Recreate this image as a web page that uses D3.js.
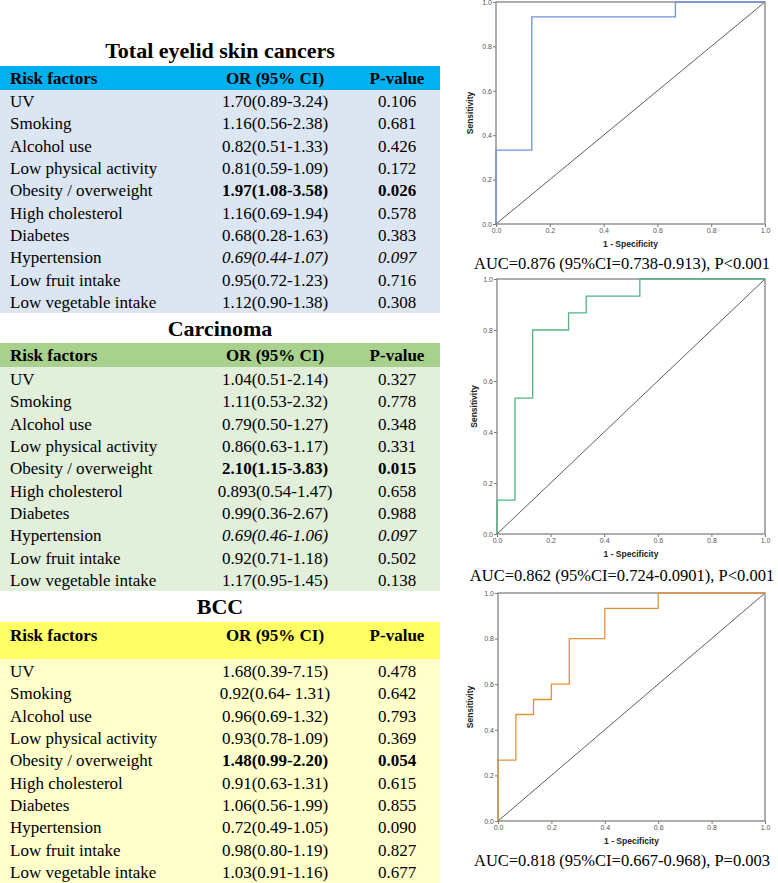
<!DOCTYPE html>
<html>
<head>
<meta charset="utf-8">
<script src="https://cdn.jsdelivr.net/npm/d3@7"></script>
<style>
  body { margin: 0; background: #fff; }
  svg { display: block; }
</style>
</head>
<body>
<svg id="fig" width="778" height="883"></svg>
<script>
// table data
const riskFactors = [
    'UV', 'Smoking', 'Alcohol use', 'Low physical activity', 'Obesity / overweight',
    'High cholesterol', 'Diabetes', 'Hypertension', 'Low fruit intake', 'Low vegetable intake'
];
const headers = ['Risk factors', 'OR (95% CI)', 'P-value'];

const totalOR = ['1.70(0.89-3.24)', '1.16(0.56-2.38)', '0.82(0.51-1.33)', '0.81(0.59-1.09)', '1.97(1.08-3.58)',
    '1.16(0.69-1.94)', '0.68(0.28-1.63)', '0.69(0.44-1.07)', '0.95(0.72-1.23)', '1.12(0.90-1.38)'];
const totalP = ['0.106', '0.681', '0.426', '0.172', '0.026', '0.578', '0.383', '0.097', '0.716', '0.308'];

const carcOR = ['1.04(0.51-2.14)', '1.11(0.53-2.32)', '0.79(0.50-1.27)', '0.86(0.63-1.17)', '2.10(1.15-3.83)',
    '0.893(0.54-1.47)', '0.99(0.36-2.67)', '0.69(0.46-1.06)', '0.92(0.71-1.18)', '1.17(0.95-1.45)'];
const carcP = ['0.327', '0.778', '0.348', '0.331', '0.015', '0.658', '0.988', '0.097', '0.502', '0.138'];

const bccOR = ['1.68(0.39-7.15)', '0.92(0.64- 1.31)', '0.96(0.69-1.32)', '0.93(0.78-1.09)', '1.48(0.99-2.20)',
    '0.91(0.63-1.31)', '1.06(0.56-1.99)', '0.72(0.49-1.05)', '0.98(0.80-1.19)', '1.03(0.91-1.16)'];
const bccP = ['0.478', '0.642', '0.793', '0.369', '0.054', '0.615', '0.855', '0.090', '0.827', '0.677'];

// significant (bold) and borderline (italic) rows
const totalBold = [4], totalItalic = [7];
const carcBold = [4], carcItalic = [7];
const bccBold = [4], bccItalic = [];

// ROC curve points (1 - specificity, sensitivity)
const rocTotalX = [0, 0, 0.133, 0.133, 0.667, 0.667, 1];
const rocTotalY = [0, 0.333, 0.333, 0.933, 0.933, 1, 1];
const rocCarcX = [0, 0, 0.067, 0.067, 0.133, 0.133, 0.267, 0.267, 0.333, 0.333, 0.533, 0.533, 1];
const rocCarcY = [0, 0.133, 0.133, 0.533, 0.533, 0.8, 0.8, 0.867, 0.867, 0.933, 0.933, 1, 1];
const rocBccX = [0, 0, 0.067, 0.067, 0.133, 0.133, 0.2, 0.2, 0.267, 0.267, 0.4, 0.4, 0.6, 0.6, 1];
const rocBccY = [0, 0.267, 0.267, 0.467, 0.467, 0.533, 0.533, 0.6, 0.6, 0.8, 0.8, 0.933, 0.933, 1, 1];
const rocTicks = [0, 0.2, 0.4, 0.6, 0.8, 1.0];
const aucLabels = [
    'AUC=0.876 (95%CI=0.738-0.913), P<0.001',
    'AUC=0.862 (95%CI=0.724-0.0901), P<0.001',
    'AUC=0.818 (95%CI=0.667-0.968), P=0.003'
];

const svg = d3.select('#fig');
const serif = '"Liberation Serif", "Times New Roman", serif';
const sans = '"Liberation Sans", Arial, sans-serif';

// ---------- tables ----------
const tables = [
    { title: 'Total eyelid skin cancers', or: totalOR, p: totalP, bold: totalBold, italic: totalItalic,
      titleY: 58, headTop: 66, headBottom: 90, headText: 84, bodyBottom: 313, head: '#00b0f0', body: '#dce6f2' },
    { title: 'Carcinoma', or: carcOR, p: carcP, bold: carcBold, italic: carcItalic,
      titleY: 336, headTop: 343, headBottom: 367, headText: 361, bodyBottom: 591, head: '#a9d18e', body: '#e2efda' },
    { title: 'BCC', or: bccOR, p: bccP, bold: bccBold, italic: bccItalic,
      titleY: 614, headTop: 622, headBottom: 659, headText: 641, bodyBottom: 883, head: '#ffff66', body: '#ffffcc' }
];

const tableWidth = 440;
const colX = d3.scaleOrdinal().domain([0, 1, 2]).range([10, 275, 397]);
const colAnchor = ['start', 'middle', 'middle'];

tables.forEach(function(t) {
    var g = svg.append('g');

    g.append('text')
        .attr('x', 220)
        .attr('y', t.titleY)
        .attr('text-anchor', 'middle')
        .style('font-family', serif)
        .style('font-weight', 'bold')
        .style('font-size', '22px')
        .text(t.title);

    g.append('rect')
        .attr('x', 0).attr('y', t.headTop)
        .attr('width', tableWidth).attr('height', t.headBottom - t.headTop)
        .attr('fill', t.head);

    g.append('rect')
        .attr('x', 0).attr('y', t.headBottom)
        .attr('width', tableWidth).attr('height', t.bodyBottom - t.headBottom)
        .attr('fill', t.body);

    g.selectAll('.head')
        .data(headers)
        .enter().append('text')
        .attr('x', function(d, i) { return colX(i); })
        .attr('y', t.headText)
        .attr('text-anchor', function(d, i) { return colAnchor[i]; })
        .style('font-family', serif)
        .style('font-weight', 'bold')
        .style('font-size', '17px')
        .text(function(d) { return d; });

    var rowY = d3.scaleBand()
        .domain(d3.range(riskFactors.length))
        .range([t.bodyBottom - 10 * 22.3, t.bodyBottom]);

    var rows = g.selectAll('.row')
        .data(riskFactors)
        .enter().append('g')
        .attr('transform', function(d, i) { return 'translate(0,' + (rowY(i) + rowY.bandwidth() / 2 + 6) + ')'; });

    rows.each(function(d, i) {
        var row = d3.select(this);
        var cells = [d, t.or[i], t.p[i]];
        cells.forEach(function(c, j) {
            row.append('text')
                .attr('x', colX(j))
                .attr('text-anchor', colAnchor[j])
                .style('font-family', serif)
                .style('font-size', '17px')
                .style('font-weight', j > 0 && t.bold.indexOf(i) >= 0 ? 'bold' : 'normal')
                .style('font-style', j > 0 && t.italic.indexOf(i) >= 0 ? 'italic' : 'normal')
                .text(c);
        });
    });
});

// ---------- ROC charts ----------
const rocCharts = [
    { xs: rocTotalX, ys: rocTotalY, color: '#7090d8', left: 496, right: 765, top: 2, bottom: 224, yLabelX: 473, aucY: 269 },
    { xs: rocCarcX, ys: rocCarcY, color: '#52b583', left: 497, right: 765, top: 279, bottom: 534, yLabelX: 477, aucY: 581 },
    { xs: rocBccX, ys: rocBccY, color: '#e0933a', left: 498, right: 765, top: 593, bottom: 821, yLabelX: 473, aucY: 866 }
];

rocCharts.forEach(function(c, k) {
    var xScale = d3.scaleLinear().domain([0, 1]).range([c.left, c.right]);
    var yScale = d3.scaleLinear().domain([0, 1]).range([c.bottom, c.top]);
    var g = svg.append('g');
    var fmt = d3.format('.1f');

    // axes
    var yAxis = g.append('g')
        .attr('transform', 'translate(' + c.left + ',0)')
        .call(d3.axisLeft(yScale).tickValues(rocTicks).tickFormat(fmt).tickSize(3).tickPadding(1));
    var xAxis = g.append('g')
        .attr('transform', 'translate(0,' + c.bottom + ')')
        .call(d3.axisBottom(xScale).tickValues(rocTicks).tickFormat(fmt).tickSize(3).tickPadding(1));

    [xAxis, yAxis].forEach(function(a) {
        a.select('.domain').remove();
        a.selectAll('line').attr('stroke', '#777');
        a.selectAll('text')
            .attr('fill', '#555')
            .style('font-family', sans)
            .style('font-size', '7px');
    });

    // frame
    g.append('rect')
        .attr('x', xScale(0)).attr('y', yScale(1))
        .attr('width', xScale(1) - xScale(0)).attr('height', yScale(0) - yScale(1))
        .attr('fill', 'none')
        .attr('stroke', '#8c8c8c')
        .attr('stroke-width', 1.4);

    // reference diagonal
    g.append('line')
        .attr('x1', xScale(0)).attr('y1', yScale(0))
        .attr('x2', xScale(1)).attr('y2', yScale(1))
        .attr('stroke', '#333')
        .attr('stroke-width', 0.8);

    // ROC curve
    var pts = c.xs.map(function(x, i) { return [x, c.ys[i]]; });
    g.append('path')
        .datum(pts)
        .attr('fill', 'none')
        .attr('stroke', c.color)
        .attr('stroke-width', 1.3)
        .attr('d', d3.line()
            .x(function(d) { return xScale(d[0]); })
            .y(function(d) { return yScale(d[1]); }));

    // axis titles
    g.append('text')
        .attr('transform', 'translate(' + c.yLabelX + ',' + ((c.top + c.bottom) / 2) + ') rotate(-90)')
        .attr('text-anchor', 'middle')
        .attr('fill', '#222')
        .style('font-family', sans)
        .style('font-weight', 'bold')
        .style('font-size', '8.5px')
        .text('Sensitivity');

    g.append('text')
        .attr('x', (c.left + c.right) / 2)
        .attr('y', c.bottom + 23)
        .attr('text-anchor', 'middle')
        .attr('fill', '#222')
        .style('font-family', sans)
        .style('font-weight', 'bold')
        .style('font-size', '8.5px')
        .text('1 - Specificity');

    g.append('text')
        .attr('x', 622)
        .attr('y', c.aucY)
        .attr('text-anchor', 'middle')
        .style('font-family', serif)
        .style('font-size', '16.5px')
        .text(aucLabels[k]);
});
</script>
</body>
</html>
